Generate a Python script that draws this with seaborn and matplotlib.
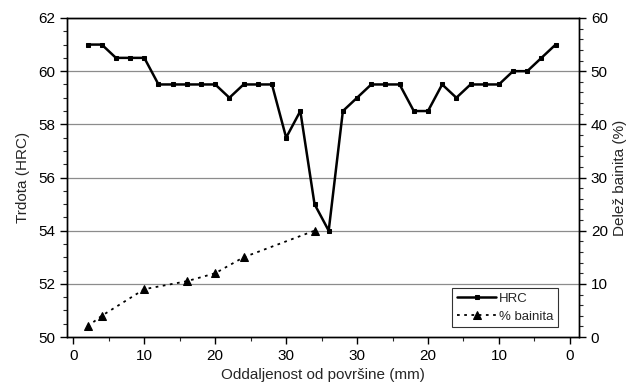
import numpy as np
import pandas as pd
import matplotlib
matplotlib.use("Agg")
import matplotlib.pyplot as plt
import seaborn as sns
from matplotlib.ticker import MultipleLocator

# === PODATKI ===
# polozaj vzdolz preseka (mm), 0 = povrsina levo, 70 = povrsina desno
polozaj_hrc = [2, 4, 6, 8, 10, 12, 14, 16, 18, 20, 22, 24, 26, 28, 30, 32, 34,
               36, 38, 40, 42, 44, 46, 48, 50, 52, 54, 56, 58, 60, 62, 64, 66, 68]
hrc = [61, 61, 60.5, 60.5, 60.5, 59.5, 59.5, 59.5, 59.5, 59.5, 59, 59.5, 59.5,
       59.5, 57.5, 58.5, 55, 54, 58.5, 59, 59.5, 59.5, 59.5, 58.5, 58.5, 59.5,
       59, 59.5, 59.5, 59.5, 60, 60, 60.5, 61]

polozaj_bainit = [2, 4, 10, 16, 20, 24, 34]
bainit = [2, 4, 9, 10.5, 12, 15, 20]

tick_pos = [0, 10, 20, 30, 40, 50, 60, 70]
tick_lab = ["0", "10", "20", "30", "30", "20", "10", "0"]

df_hrc = pd.DataFrame({"x": polozaj_hrc, "HRC": hrc})
df_b = pd.DataFrame({"x": polozaj_bainit, "bainit": bainit})

# === GRAF ===
sns.set_style("white")
plt.rcParams["font.family"] = ["Liberation Sans", "DejaVu Sans"]

fig = plt.figure(figsize=(6.34, 3.91), dpi=100)
ax = fig.add_axes([0.1057, 0.138, 0.8076, 0.816])
ax2 = ax.twinx()

for y in np.arange(52, 62.1, 2):
    ax.axhline(y, color="#8c8c8c", linewidth=0.9, zorder=0)

sns.lineplot(data=df_hrc, x="x", y="HRC", ax=ax, color="black", marker="s",
             markersize=3.5, markeredgecolor="black", linewidth=1.8,
             label="HRC", legend=False)
sns.lineplot(data=df_b, x="x", y="bainit", ax=ax2, color="black", marker="^",
             markersize=6, markeredgecolor="black", linewidth=1.3,
             linestyle=(0, (1.5, 2.5)), label="% bainita", legend=False)

ax.set_xlim(-0.9, 71.3)
ax.set_ylim(50, 62)
ax2.set_ylim(0, 60)

ax.set_xticks(tick_pos)
ax.set_xticklabels(tick_lab)
ax.xaxis.set_minor_locator(MultipleLocator(5))
ax.yaxis.set_major_locator(MultipleLocator(2))
ax.yaxis.set_minor_locator(MultipleLocator(0.5))
ax2.yaxis.set_major_locator(MultipleLocator(10))
ax2.yaxis.set_minor_locator(MultipleLocator(2))

for a in (ax, ax2):
    for s in a.spines.values():
        s.set_color("black")
        s.set_linewidth(1.0)
    a.tick_params(which="major", direction="out", length=5, width=1,
                  labelsize=11, colors="black")
    a.tick_params(which="minor", direction="out", length=3, width=0.8)
ax.tick_params(axis="both", which="both", bottom=True, left=True)
ax2.tick_params(axis="y", which="both", right=True)

ax.set_xlabel("Oddaljenost od površine (mm)", fontsize=11)
ax.set_ylabel("Trdota (HRC)", fontsize=11, labelpad=6)
ax2.set_ylabel("Delež bainita (%)", fontsize=11)

h1, l1 = ax.get_legend_handles_labels()
h2, l2 = ax2.get_legend_handles_labels()
leg = ax2.legend(h1 + h2, l1 + l2, loc="lower right",
                 bbox_to_anchor=(0.959, 0.031), borderaxespad=0,
                 fontsize=9.5, frameon=True, fancybox=False,
                 edgecolor="black", handlelength=3.0, handletextpad=0.2,
                 borderpad=0.35, labelspacing=0.4)
leg.get_frame().set_linewidth(0.8)

fig.savefig("out.png", dpi=100)
